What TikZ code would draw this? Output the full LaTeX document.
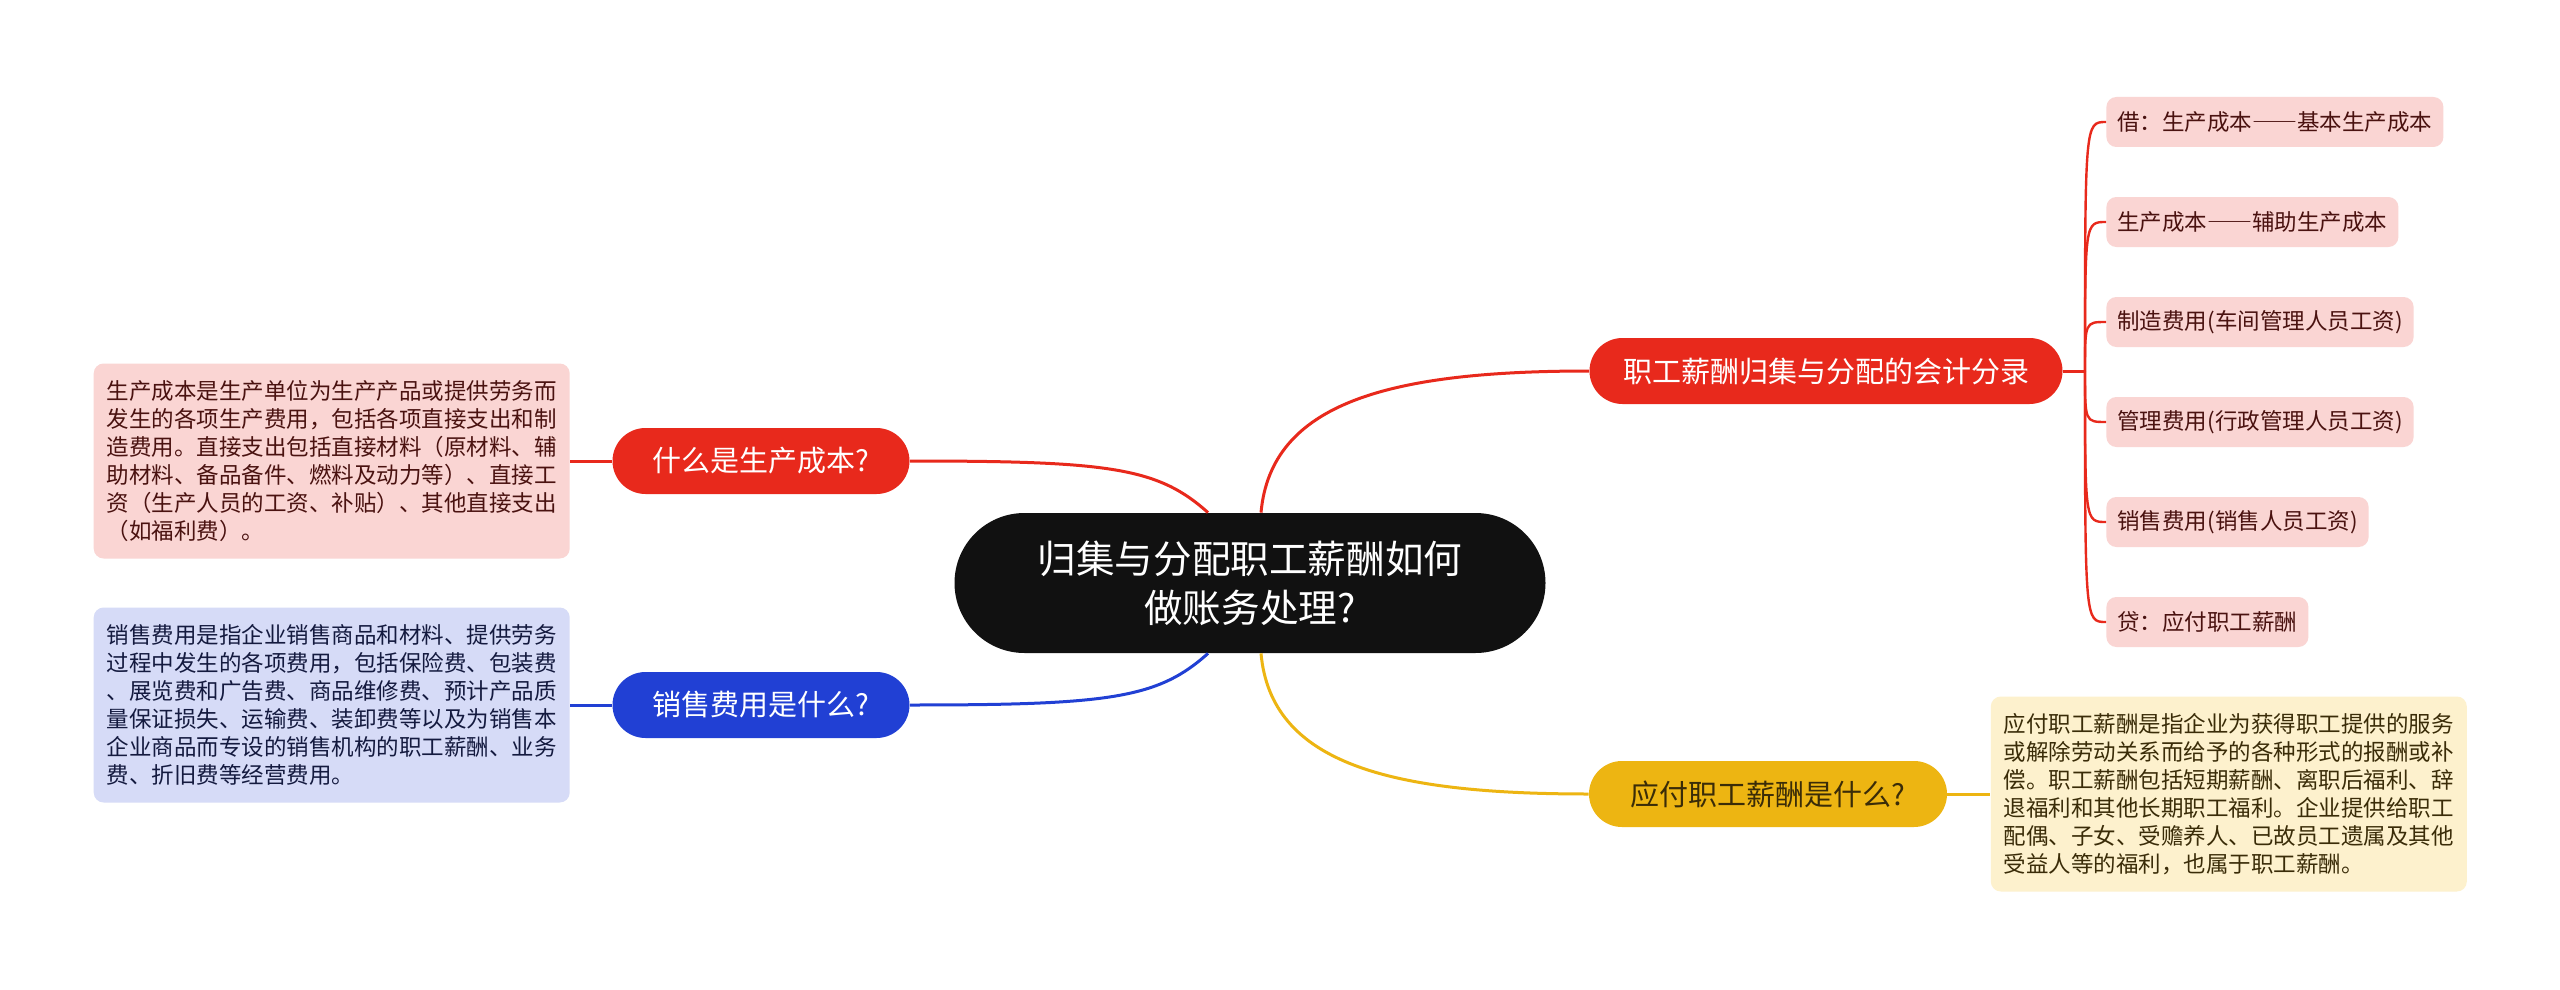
\documentclass[tikz,border=0pt]{standalone}
\usepackage{fontspec}
\setmainfont{Noto Sans CJK SC}
\usetikzlibrary{positioning}
\definecolor{MMred}{HTML}{E8291C}
\definecolor{MMblue}{HTML}{2140D4}
\definecolor{MMyellow}{HTML}{EDB512}
\definecolor{MMblack}{HTML}{111111}
\definecolor{REDbg}{HTML}{FAD5D3}
\definecolor{BLUbg}{HTML}{D6DBF7}
\definecolor{YELbg}{HTML}{FDF1CD}
\definecolor{REDtx}{HTML}{4A1210}
\definecolor{BLUtx}{HTML}{141A3F}
\definecolor{YELtx}{HTML}{3A2C08}
\newcommand{\fwdash}{{\addfontfeature{CharacterWidth=Full}——}}
\tikzset{
  pill/.style={rounded corners=16.5pt,minimum height=33pt,inner xsep=0pt,font=\fontsize{14.5}{17}\selectfont},
  leaf/.style={rounded corners=5pt,minimum height=25pt,inner xsep=5.5pt,anchor=west,fill=REDbg,text=REDtx,font=\fontsize{11.25}{14}\selectfont},
  desc/.style={rounded corners=5pt,align=left,inner xsep=6.5pt,minimum width=236.5pt,minimum height=97.5pt,font=\fontsize{11.25}{14}\selectfont},
  link/.style={line width=1.5pt}
}

\begin{document}
\begin{tikzpicture}[x=0.5pt,y=-0.5pt]
  \useasboundingbox (0,0) rectangle (2560,990);
  \fill[white] (0,0) rectangle (2560,990);
  % centre and main topics
  \node[fill=MMblack,text=white,rounded corners=35pt,minimum width=295.5pt,minimum height=70pt,align=center,font=\fontsize{19.3}{24.5}\selectfont] (root) at (1250,583) {归集与分配职工薪酬如何\\做账务处理?};
  \node[pill,fill=MMred,text=white,minimum width=148.5pt] (costq) at (761,461) {什么是生产成本?};
  \node[pill,fill=MMblue,text=white,minimum width=148.5pt] (saleq) at (761,705) {销售费用是什么?};
  \node[pill,fill=MMred,text=white,minimum width=236.5pt] (acct) at (1826,371) {职工薪酬归集与分配的会计分录};
  \node[pill,fill=MMyellow,text=YELtx,minimum width=179pt] (payq) at (1768,794) {应付职工薪酬是什么?};
  % descriptions
  \node[desc,fill=REDbg,text=REDtx,left=21pt of costq] (costd) {生产成本是生产单位为生产产品或提供劳务而\\发生的各项生产费用，包括各项直接支出和制\\造费用。直接支出包括直接材料（原材料、辅\\助材料、备品备件、燃料及动力等）、直接工\\资（生产人员的工资、补贴）、其他直接支出\\（如福利费）。};
  \node[desc,fill=BLUbg,text=BLUtx,left=21pt of saleq] (saled) {销售费用是指企业销售商品和材料、提供劳务\\过程中发生的各项费用，包括保险费、包装费\\、展览费和广告费、商品维修费、预计产品质\\量保证损失、运输费、装卸费等以及为销售本\\企业商品而专设的销售机构的职工薪酬、业务\\费、折旧费等经营费用。};
  \node[desc,fill=YELbg,text=YELtx,right=21.5pt of payq] (payd) {应付职工薪酬是指企业为获得职工提供的服务\\或解除劳动关系而给予的各种形式的报酬或补\\偿。职工薪酬包括短期薪酬、离职后福利、辞\\退福利和其他长期职工福利。企业提供给职工\\配偶、子女、受赡养人、已故员工遗属及其他\\受益人等的福利，也属于职工薪酬。};
  % entries
  \foreach \i/\t in {1/借：生产成本\fwdash 基本生产成本,2/生产成本\fwdash 辅助生产成本,3/制造费用(车间管理人员工资),4/管理费用(行政管理人员工资),5/销售费用(销售人员工资),6/贷：应付职工薪酬}
    \node[leaf] (s\i) at (2106,22+100*\i) {\t};
  \coordinate (hub) at (2085,371);
  % connectors
  \draw[link,MMred] ([xshift=5.5pt]root.north) .. controls +(10,-110) and +(-200,0) .. (acct.west);
  \draw[link,MMyellow] ([xshift=5.5pt]root.south) .. controls +(10,110) and +(-200,0) .. (payq.west);
  \draw[link,MMred] ([xshift=-21pt]root.north) .. controls +(-50,-45) and +(200,0) .. (costq.east);
  \draw[link,MMblue] ([xshift=-21pt]root.south) .. controls +(-50,45) and +(200,0) .. (saleq.east);
  \draw[link,MMred] (costq.west) -- (costd.east);
  \draw[link,MMblue] (saleq.west) -- (saled.east);
  \draw[link,MMyellow] (payq.east) -- (payd.west);
  \draw[link,MMred] (acct.east) -- (hub);
  \foreach \i in {1,...,6}
    \draw[MMred,line width=1.2pt] (hub) .. controls (hub |- s\i.west) .. (s\i.west);
\end{tikzpicture}
\end{document}
